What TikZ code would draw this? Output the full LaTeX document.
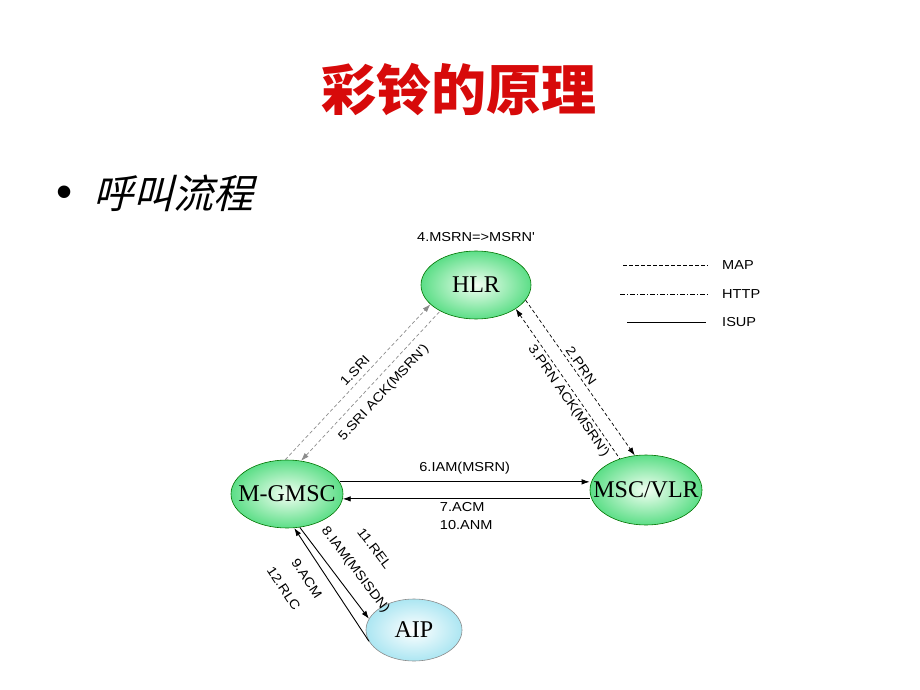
\documentclass[tikz,border=0pt]{standalone}
\usepackage{fontspec}
\usepackage{tikz}
\usetikzlibrary{shapes.geometric,arrows.meta}
\setmainfont{Liberation Serif}
\setsansfont{Liberation Sans}
\newfontfamily\cjk{Noto Sans CJK SC}
\newfontfamily\cjkit[FakeSlant=0.25]{Noto Sans CJK SC}
\newfontfamily\lblfont[FakeStretch=1.12]{Liberation Sans}
\definecolor{nodegreen}{RGB}{92,222,135}
\definecolor{nodecyan}{RGB}{172,230,242}
\definecolor{titlered}{RGB}{215,10,10}

\begin{document}
\begin{tikzpicture}[x=1pt,y=1pt,>={Latex[length=8pt,width=5.5pt]}]
\tikzstyle{every node}+=[inner sep=0pt]
\tikzstyle{every label}=[font=\fontsize{24}{26}\selectfont]
\tikzstyle{net}=[ellipse, draw=black!55!green, line width=0.6pt, inner color=green!5!white, outer color=nodegreen]
\tikzstyle{lbl}=[font=\lblfont\fontsize{13}{15}\selectfont]
\tikzstyle{map}=[line width=0.7pt, dash pattern=on 3.5pt off 2.5pt]
\tikzstyle{maplight}=[draw=black!45]
\tikzstyle{http}=[line width=0.7pt, dash pattern=on 5pt off 2pt on 1pt off 2pt]
\tikzstyle{isup}=[line width=0.9pt]
\useasboundingbox (0,0) rectangle (920,-690);
\node[font=\cjk\bfseries\fontsize{55}{60}\selectfont, text=titlered] (title) at (459,-90) {彩铃的原理};
\node[font=\sffamily\fontsize{46}{50}\selectfont] (dot) at (65,-197) {•};
\node[font=\cjkit\fontsize{40}{44}\selectfont, anchor=west] (topic) at (93,-193) {呼叫流程};
\node[net, minimum width=110pt, minimum height=68pt, label=center:HLR] (hlr) at (476,-285) {};
\node[net, minimum width=112pt, minimum height=70pt, label=center:MSC/VLR] (msc) at (646,-490) {};
\node[net, minimum width=112pt, minimum height=68pt, label=center:M-GMSC] (gmsc) at (287,-494) {};
\node[net, draw=black!45, inner color=white, outer color=nodecyan, minimum width=96pt, minimum height=62pt, label=center:AIP] (aip) at (414,-630) {};
\node[lbl] (hlrnote) at (476,-237) {4.MSRN=>MSRN'};
\node[lbl, anchor=west] (maptxt) at (722,-265) {MAP};
\node[lbl, anchor=west] (httptxt) at (722,-294) {HTTP};
\node[lbl, anchor=west] (isuptxt) at (722,-322) {ISUP};
\draw[map] ([xshift=-99pt]maptxt.west) -- ([xshift=-14pt]maptxt.west);
\draw[http] ([xshift=-102pt]httptxt.west) -- ([xshift=-14pt]httptxt.west);
\draw[isup] ([xshift=-95pt]isuptxt.west) -- ([xshift=-16pt]isuptxt.west);
\draw[map, maplight, ->] (gmsc.93) -- node[lbl, sloped, above=5pt, pos=0.53] {1.SRI} (hlr.203);
\draw[map, maplight, <-] (gmsc.67) -- node[lbl, sloped, below=8pt, pos=0.52] {5.SRI ACK(MSRN')} (hlr.216);
\draw[map, ->] (hlr.343) -- node[lbl, sloped, above=3pt, pos=0.45] {2.PRN} (msc.108);
\draw[map, <-] (hlr.329) -- node[lbl, sloped, below=3pt, pos=0.58] {3.PRN ACK(MSRN')} (msc.130);
\draw[isup, ->] (gmsc.13) -- node[lbl, above=7pt] {6.IAM(MSRN)} (gmsc.13 -| msc.west);
\draw[isup, <-] (gmsc.-5) -- node[lbl, below=3pt, align=left] {7.ACM\\[3pt]10.ANM} (gmsc.-5 -| msc.west);
\draw[isup, ->] (gmsc.-69) -- node[lbl, sloped, above=12pt, pos=0.59] {8.IAM(MSISDN)} node[lbl, sloped, above=42pt, pos=0.54] {11.REL} (aip.166);
\draw[isup, <-] (gmsc.-78) -- node[lbl, sloped, below=12pt, pos=0.36] {9.ACM} node[lbl, sloped, below=37pt, pos=0.33] {12.RLC} (aip.194);
\end{tikzpicture}
\end{document}
